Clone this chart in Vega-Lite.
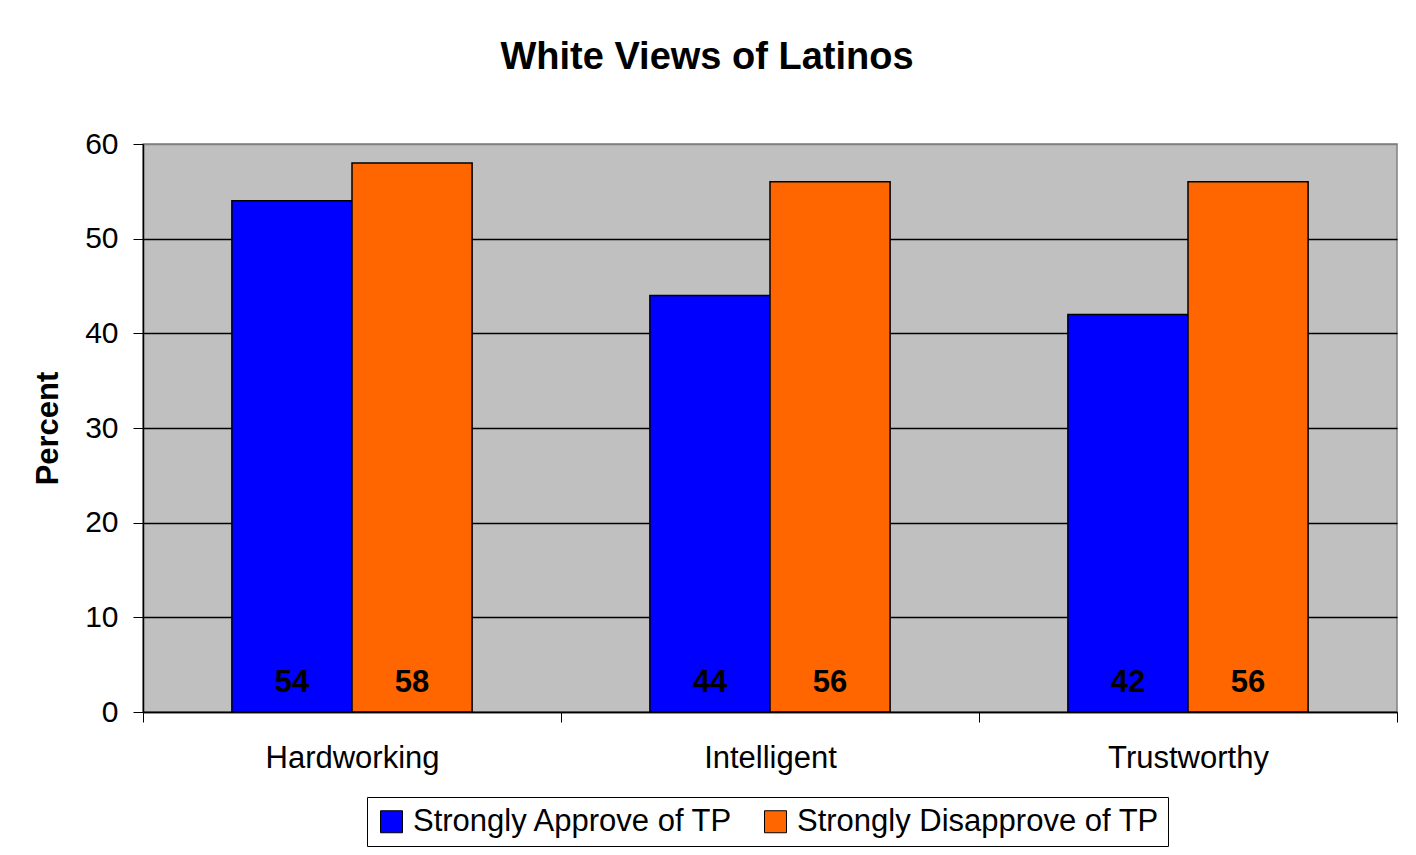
{
  "$schema": "https://vega.github.io/schema/vega-lite/v6.json",
  "autosize": "none",
  "width": 1254,
  "height": 568,
  "padding": {"left": 143, "top": 144, "right": 19, "bottom": 143},
  "background": "white",
  "title": {
    "text": "White Views of Latinos",
    "font": "Arial, Liberation Sans",
    "fontSize": 38,
    "fontWeight": "bold",
    "color": "black",
    "anchor": "middle",
    "frame": "group",
    "dx": -63,
    "baseline": "alphabetic",
    "offset": 22
  },
  "data": {
    "values": [
      {"trait": "Hardworking", "group": "Strongly Approve of TP", "pct": 54},
      {"trait": "Hardworking", "group": "Strongly Disapprove of TP", "pct": 58},
      {"trait": "Intelligent", "group": "Strongly Approve of TP", "pct": 44},
      {"trait": "Intelligent", "group": "Strongly Disapprove of TP", "pct": 56},
      {"trait": "Trustworthy", "group": "Strongly Approve of TP", "pct": 42},
      {"trait": "Trustworthy", "group": "Strongly Disapprove of TP", "pct": 56}
    ]
  },
  "encoding": {
    "x": {
      "field": "trait",
      "type": "nominal",
      "sort": ["Hardworking", "Intelligent", "Trustworthy"],
      "scale": {"paddingInner": 0, "paddingOuter": 0},
      "axis": {
        "title": null,
        "labelAngle": 0,
        "labelFont": "Arial, Liberation Sans",
        "labelFontSize": 31,
        "labelColor": "black",
        "labelPadding": 21,
        "tickBand": "extent",
        "tickSize": 10,
        "tickColor": "black",
        "domainColor": "black",
        "domainWidth": 1.5,
        "grid": false
      }
    },
    "xOffset": {
      "field": "group",
      "type": "nominal",
      "scale": {"paddingInner": 0, "paddingOuter": 0.74}
    },
    "y": {
      "field": "pct",
      "type": "quantitative",
      "scale": {"domain": [0, 60], "nice": false},
      "axis": {
        "title": "Percent",
        "titleFont": "Arial, Liberation Sans",
        "titleFontSize": 31,
        "titleFontWeight": "bold",
        "titleColor": "black",
        "titlePadding": 20,
        "values": [0, 10, 20, 30, 40, 50, 60],
        "labelFont": "Arial, Liberation Sans",
        "labelFontSize": 30,
        "labelColor": "black",
        "labelPadding": 15,
        "tickSize": 10,
        "tickColor": "black",
        "domainColor": "black",
        "domainWidth": 1.5,
        "grid": true,
        "gridColor": {"condition": {"test": "datum.value === 60", "value": "#808080"}, "value": "black"},
        "gridWidth": 1.3
      }
    }
  },
  "layer": [
    {
      "mark": {"type": "bar", "stroke": "black", "strokeWidth": 1.5},
      "encoding": {
        "color": {
          "field": "group",
          "type": "nominal",
          "scale": {
            "domain": ["Strongly Approve of TP", "Strongly Disapprove of TP"],
            "range": ["#0000FF", "#FF6600"]
          },
          "legend": {
            "title": null,
            "orient": "none",
            "legendX": 224,
            "legendY": 653,
            "direction": "horizontal",
            "symbolType": "square",
            "symbolSize": 484,
            "symbolStrokeColor": "black",
            "symbolStrokeWidth": 1,
            "labelFont": "Arial, Liberation Sans",
            "labelFontSize": 31,
            "labelColor": "black",
            "labelOffset": 6,
            "labelLimit": 500,
            "columnPadding": 26,
            "padding": 9,
            "strokeColor": "black",
            "fillColor": "white"
          }
        }
      }
    },
    {
      "mark": {
        "type": "text",
        "font": "Arial, Liberation Sans",
        "fontSize": 31,
        "fontWeight": "bold",
        "color": "black",
        "baseline": "alphabetic",
        "dy": -20
      },
      "encoding": {
        "y": {"datum": 0},
        "text": {"field": "pct", "type": "quantitative"}
      }
    }
  ],
  "config": {
    "view": {"fill": "#C0C0C0", "stroke": "#808080", "strokeWidth": 1.5}
  }
}
